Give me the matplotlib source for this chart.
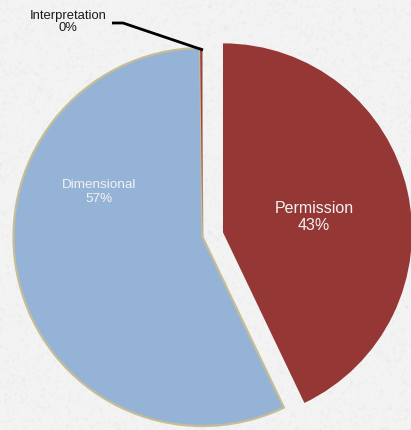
import numpy as np
import matplotlib
matplotlib.use("Agg")
import matplotlib.pyplot as plt

# Share of each category
categories = ["Permission", "Dimensional", "Interpretation"]
values = [43.0, 57.0, 0.2]
colors = ["#953735", "#95b3d7", "#a0403a"]

W, H = 411, 430
fig = plt.figure(figsize=(W / 100, H / 100), dpi=100)

# Paper-like light grey backdrop
rng = np.random.default_rng(7)
noise = rng.normal(0, 1, (H, W))
k = np.ones((3, 3)) / 9.0
pad = np.pad(noise, 1, mode="edge")
smooth = sum(pad[i:i + H, j:j + W] * k[i, j] for i in range(3) for j in range(3))
tex = 0.955 - 0.03 * np.clip(smooth, 0, None)
fig.figimage(np.dstack([tex, tex, tex]), xo=0, yo=0, zorder=-5)

ax = fig.add_axes([0, 0, 1, 1], zorder=2)
ax.axis("off")
ax.patch.set_alpha(0)

cx, cy, r = 202.5, H - 237, 189
explode = [21, 0, 0]
wedges, _ = ax.pie(values, colors=colors, startangle=90, counterclock=False,
                   radius=r, center=(cx, cy), explode=explode,
                   wedgeprops=dict(linewidth=0))
wedges[1].set_edgecolor("#c4bd97")
wedges[1].set_linewidth(1.6)

ax.set_xlim(0, W)
ax.set_ylim(0, H)
ax.set_aspect("equal")

total = sum(values)
pct = [f"{v / total * 100:.0f}%" for v in values]
font = ["Liberation Sans", "DejaVu Sans"]

ax.text(314, H - 217, f"{categories[0]}\n{pct[0]}", ha="center", va="center",
        color="#f2f2f2", fontsize=11.5, family=font, linespacing=1.2)
ax.text(99, H - 192, f"{categories[1]}\n{pct[1]}", ha="center", va="center",
        color="#f2f2f2", fontsize=9.7, family=font, linespacing=1.15)
ax.text(68, H - 22, f"{categories[2]}\n{pct[2]}", ha="center", va="center",
        color="#1a1a1a", fontsize=9.4, family=font, linespacing=1.1)

# Leader line to the thin slice at the top
ax.plot([112, 123, 203], [H - 23, H - 23, H - 50], color="black", lw=2,
        solid_capstyle="butt")

fig.savefig("out.png", dpi=100)
